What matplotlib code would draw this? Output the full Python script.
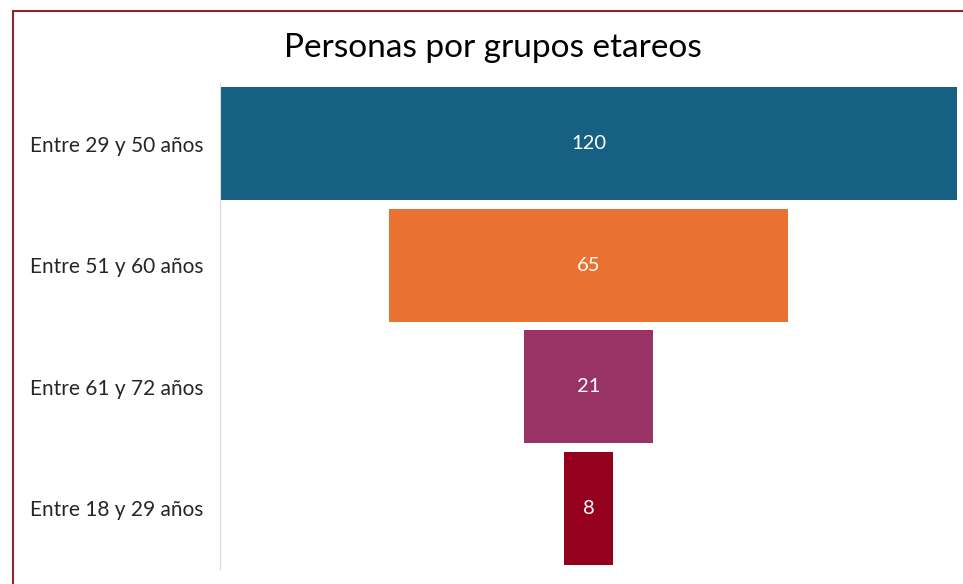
import matplotlib.pyplot as plt
import matplotlib.patches as patches
import numpy as np

plt.rcParams['font.family'] = ['Lato', 'DejaVu Sans']

# datos del grafico de embudo
grupos = ['Entre 29 y 50 años', 'Entre 51 y 60 años', 'Entre 61 y 72 años', 'Entre 18 y 29 años']
personas = [120, 65, 21, 8]
colores = ['#166083', '#E97132', '#993366', '#95001F']

fig = plt.figure(figsize=(9.63, 5.84), dpi=100)
ax = fig.add_axes([220/963, 1 - 569/584, 737/963, 486/584])

y = np.arange(len(grupos))
valores = np.array(personas)
# barras centradas en 0 para formar el embudo
ax.barh(y, valores, left=-valores/2, height=0.93, color=colores)
for yi, v in zip(y, personas):
    ax.text(0, yi, str(v), ha='center', va='center', color='white', fontsize=14.5)

ax.set_xlim(-60, 60)
ax.set_ylim(len(grupos) - 0.5, -0.5)
ax.set_yticks(y)
ax.set_yticklabels(grupos, fontsize=15, color='#262626')
ax.tick_params(axis='y', length=0, pad=12)
ax.set_xticks([])
for s in ['top', 'right', 'bottom']:
    ax.spines[s].set_visible(False)
ax.spines['left'].set_color('#d9d9d9')

fig.text(493/963, 1 - 48/584, 'Personas por grupos etareos', ha='center', va='center',
         fontsize=24, color='#000000')

# borde del grafico
borde = patches.Rectangle((12.5/963, -0.1), 1.2, 1 - 10.5/584 + 0.1, transform=fig.transFigure,
                          fill=False, edgecolor='#8B2A2A', linewidth=1.5)
fig.patches.append(borde)

fig.savefig('out.png', dpi=100)
